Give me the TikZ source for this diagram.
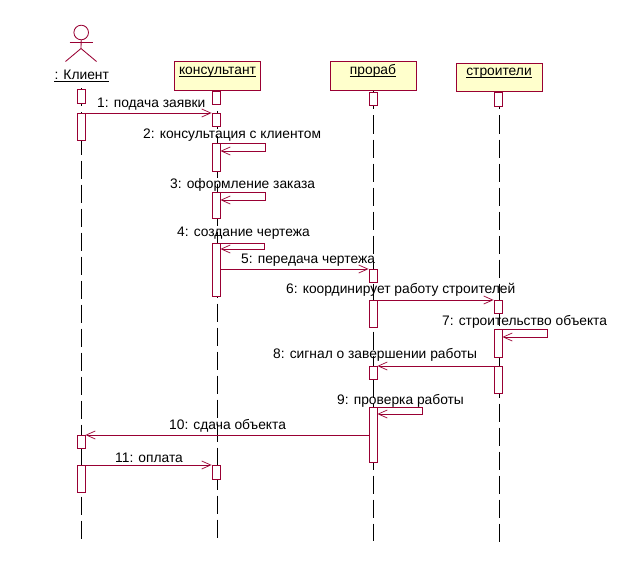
\documentclass[tikz,border=0pt]{standalone}
\usepackage{fontspec}
\setmainfont{Liberation Sans}
\definecolor{rose}{HTML}{990033}
\definecolor{paper}{HTML}{FFFFCC}
\usetikzlibrary{arrows.meta}
\tikzset{
  obj/.style={draw=rose,fill=paper,line width=.85pt,minimum height=29pt,inner sep=0pt,anchor=north west,align=center},
  act/.style={draw=rose,fill=white,line width=.85pt,minimum width=8pt,inner sep=0pt,anchor=north},
  life/.style={black,line width=.85pt,dash pattern=on 18pt off 6pt},
  msg/.style={draw=rose,line width=.85pt,-{Straight Barb[length=9pt,width=8pt,line width=.7pt]}},
  lab/.style={inner sep=0pt,font=\fontsize{13.8}{15}\selectfont,text=black},
  ttl/.style={inner sep=0pt,anchor=base,font=\fontsize{13.8}{15}\selectfont,text=black},
  ulin/.style={black,line width=.85pt}
}
\begin{document}
\begin{tikzpicture}[x=1pt,y=-1pt]
\useasboundingbox (0,0) rectangle (642,567);
\fill[white] (0,0) rectangle (642,567);
\begin{scope}[xshift=-.5pt,yshift=.5pt]
% lifelines
\coordinate (e1) at (81.5,539);
\coordinate (e2) at (217.5,541);
\coordinate (e3) at (373.5,541);
\coordinate (e4) at (499.5,542);
\coordinate (s1) at (81.5,89);
\coordinate (s2) at (217.5,88);
\coordinate (s3) at (373.5,92);
\coordinate (s4) at (499.5,92);
\draw[life] (s1) -- (e1);
\draw[life] (s2) -- (e2);
\draw[life] (s3) -- (e3);
\draw[life] (s4) -- (e4);
% actor
\node[draw=rose,line width=.85pt,fill=white,circle,minimum size=14.6pt,inner sep=0pt] (head) at (81.7,33) {};
\coordinate (hip) at (81.5,49);
\coordinate (armL) at (70,42.5);
\coordinate (armR) at (93,42.5);
\coordinate (footL) at (66,62);
\coordinate (footR) at (97,62);
\draw[rose,line width=.85pt] (head.south) -- (hip);
\draw[rose,line width=.85pt] (armL) -- (armR);
\draw[rose,line width=.85pt] (footL) -- (hip) -- (footR);
\node[ttl] (client) at (82.2,80) {: Клиент};
\draw[ulin] ([yshift=-1.5pt]client.base west) -- ([yshift=-1.5pt]client.base east);
% objects
\node[obj,minimum width=86pt] (kons) at (174.5,61.5) {};
\node[ttl] (konst) at (218,75.5) {консультант};
\draw[ulin] ([yshift=-1.5pt]konst.base west) -- ([yshift=-1.5pt]konst.base east);
\node[obj,minimum width=86pt] (pror) at (330.5,61.5) {};
\node[ttl] (prort) at (373.5,75) {прораб};
\draw[ulin] ([yshift=-1.5pt]prort.base west) -- ([yshift=-1.5pt]prort.base east);
\node[obj,minimum width=86pt,minimum height=28pt] (stro) at (456.5,63.5) {};
\node[ttl] (strot) at (499.5,76) {строители};
\draw[ulin] ([yshift=-1.5pt]strot.base west) -- ([yshift=-1.5pt]strot.base east);
% activations
\newcommand{\actv}[4]{\node[act,minimum height=#4pt] (#1) at (#2,#3) {};}
\actv{c1}{81.5}{89.5}{14}
\actv{c2}{81.5}{113.5}{27}
\actv{c3}{81.5}{435.5}{13}
\actv{c4}{81.5}{465.5}{27}
\actv{k1}{216.5}{91.5}{13}
\actv{k2}{216.5}{113.5}{13}
\actv{k3}{216.5}{143.5}{28}
\actv{k4}{216.5}{192.5}{26}
\actv{k5}{216.5}{243.5}{53}
\actv{k6}{216.5}{465.5}{14}
\actv{p1}{373.5}{92.5}{13}
\actv{p2}{373.5}{269.5}{13}
\actv{p3}{373.5}{300.5}{27}
\actv{p4}{373.5}{366.5}{13}
\actv{p5}{373.5}{407.5}{55}
\actv{b1}{498.5}{92.5}{14}
\actv{b2}{498.5}{300.5}{13}
\actv{b3}{498.5}{329.5}{28}
\actv{b4}{498.5}{366.5}{27}
% messages
\draw[msg] (c2.north east) -- (k2.north west);
\node[lab,anchor=west] at (97.5,105) {1: подача заявки};
\draw[msg] (k3.north east) -- (265.5,143.5) -- (265.5,151.5) -- (k3.east |- 0,151.5);
\node[lab,anchor=west] at (143.5,135.5) {2: консультация с клиентом};
\draw[msg] (k4.north east) -- (265.5,192.5) -- (265.5,200.5) -- (k4.east |- 0,200.5);
\node[lab,anchor=west] at (170.5,185) {3: оформление заказа};
\draw[msg] (k5.north east) -- (264.5,243.5) -- (264.5,249.5) -- (k5.east |- 0,249.5);
\node[lab,anchor=west] at (177.5,233.5) {4: создание чертежа};
\draw[msg] (k5.east |- 0,269.5) -- (p2.north west);
\node[lab,anchor=west] at (241.5,261) {5: передача чертежа};
\draw[msg] (p3.north east) -- (b2.north west);
\node[lab,anchor=west] at (286.5,290) {6: координирует работу строителей};
\draw[msg] (b3.north east) -- (547.5,329.5) -- (547.5,337.5) -- (b3.east |- 0,337.5);
\node[lab,anchor=west] at (442.5,322) {7: строительство объекта};
\draw[msg] (b4.north west) -- (p4.north east);
\node[lab,anchor=west] at (273.5,355.5) {8: сигнал о завершении работы};
\draw[msg] (p5.north east) -- (422.5,407.5) -- (422.5,414.5) -- (p5.east |- 0,414.5);
\node[lab,anchor=west] at (337.5,401.5) {9: проверка работы};
\draw[msg] (p5.west |- 0,435.5) -- (c3.north east);
\node[lab,anchor=west] at (169.5,426.5) {10: сдача объекта};
\draw[msg] (c4.north east) -- (k6.north west);
\node[lab,anchor=west] at (115.5,458) {11: оплата};
\end{scope}
\end{tikzpicture}
\end{document}
